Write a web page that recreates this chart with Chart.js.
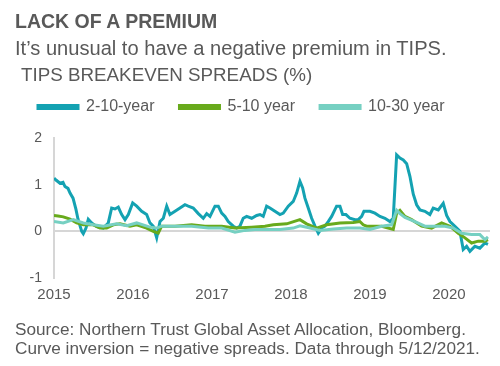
<!DOCTYPE html>
<html>
<head>
<meta charset="utf-8">
<script src="https://cdn.jsdelivr.net/npm/chart.js@4/dist/chart.umd.min.js"></script>
<style>
  html, body { margin: 0; padding: 0; background: #fff; }
  body { width: 500px; height: 366px; position: relative; overflow: hidden; font-family: "Liberation Sans", Arial, sans-serif; color: #595959; }
  .t { position: absolute; white-space: nowrap; line-height: 1; }
  #title { left: 15px; top: 12px; font-size: 19.5px; font-weight: bold; }
  #sub { left: 15px; top: 38px; font-size: 20.1px; }
  #ytitle { left: 21px; top: 66px; font-size: 18.8px; }
  #src { left: 15px; top: 319.5px; font-size: 17.2px; line-height: 19px; }
  #wrap { position: absolute; left: 0; top: 0; width: 500px; height: 366px; }
</style>
</head>
<body>
<div id="wrap"><canvas id="c" width="500" height="366"></canvas></div>
<div class="t" id="title">LACK OF A PREMIUM</div>
<div class="t" id="sub">It’s unusual to have a negative premium in TIPS.</div>
<div class="t" id="ytitle">TIPS BREAKEVEN SPREADS (%)</div>
<div class="t" id="src">Source: Northern Trust Global Asset Allocation, Bloomberg.<br>Curve inversion = negative spreads. Data through 5/12/2021.</div>
<script>
// Series names
const seriesNames = ["2-10-year", "5-10 year", "10-30 year"];
// X tick labels (years)
const yearTicks = [2015, 2016, 2017, 2018, 2019, 2020];

// 2-10-year: dates (decimal years) and spreads (%)
const dates2_10 = [2015.000,2015.025,2015.076,2015.114,2015.139,2015.177,2015.203,2015.241,2015.278,2015.304,2015.351,2015.371,2015.405,2015.434,2015.477,2015.541,2015.624,2015.687,2015.730,2015.772,2015.814,2015.857,2015.899,2015.941,2015.996,2016.047,2016.110,2016.173,2016.215,2016.257,2016.300,2016.342,2016.384,2016.427,2016.468,2016.532,2016.595,2016.658,2016.700,2016.763,2016.827,2016.890,2016.933,2016.975,2017.038,2017.080,2017.123,2017.165,2017.206,2017.270,2017.313,2017.354,2017.396,2017.439,2017.503,2017.566,2017.608,2017.649,2017.692,2017.734,2017.797,2017.861,2017.903,2017.966,2018.029,2018.072,2018.114,2018.148,2018.177,2018.219,2018.262,2018.304,2018.346,2018.389,2018.430,2018.472,2018.515,2018.578,2018.620,2018.654,2018.696,2018.747,2018.810,2018.852,2018.895,2018.924,2019.000,2019.063,2019.127,2019.190,2019.253,2019.295,2019.338,2019.380,2019.422,2019.465,2019.506,2019.548,2019.591,2019.633,2019.696,2019.759,2019.801,2019.865,2019.928,2019.971,2020.013,2020.076,2020.139,2020.181,2020.224,2020.266,2020.329,2020.392,2020.456,2020.494];
const spread2_10 = [1.14,1.10,1.03,1.05,0.96,0.92,0.82,0.71,0.47,0.26,0.00,-0.05,0.07,0.26,0.18,0.10,0.07,0.18,0.50,0.48,0.52,0.36,0.25,0.36,0.61,0.54,0.43,0.36,0.18,0.11,-0.14,0.21,0.28,0.54,0.36,0.43,0.50,0.57,0.54,0.50,0.38,0.28,0.38,0.32,0.54,0.54,0.39,0.32,0.21,0.11,0.07,0.11,0.28,0.32,0.28,0.34,0.36,0.32,0.54,0.50,0.43,0.36,0.39,0.54,0.64,0.82,1.07,0.93,0.71,0.50,0.28,0.11,-0.04,0.07,0.11,0.21,0.32,0.54,0.54,0.36,0.36,0.28,0.25,0.25,0.32,0.43,0.43,0.39,0.32,0.28,0.21,0.28,1.64,1.57,1.53,1.45,1.18,0.80,0.57,0.46,0.43,0.36,0.50,0.46,0.60,0.34,0.21,0.11,0.00,-0.39,-0.32,-0.43,-0.32,-0.36,-0.25,-0.28];

// 5-10 year
const dates5_10 = [2015.000,2015.051,2015.118,2015.203,2015.287,2015.371,2015.498,2015.582,2015.667,2015.751,2015.835,2015.962,2016.047,2016.173,2016.257,2016.320,2016.363,2016.532,2016.743,2016.911,2017.123,2017.291,2017.502,2017.671,2017.777,2017.946,2018.114,2018.198,2018.325,2018.452,2018.620,2018.789,2018.873,2018.915,2018.958,2019.148,2019.295,2019.338,2019.380,2019.443,2019.528,2019.654,2019.781,2019.908,2020.013,2020.118,2020.203,2020.287,2020.371,2020.456,2020.494];
const spread5_10 = [0.34,0.33,0.31,0.26,0.18,0.14,0.14,0.07,0.07,0.14,0.16,0.11,0.14,0.07,0.00,-0.04,0.11,0.11,0.14,0.11,0.11,0.07,0.09,0.11,0.14,0.16,0.25,0.16,0.07,0.14,0.18,0.19,0.21,0.14,0.11,0.11,0.04,0.39,0.45,0.32,0.25,0.11,0.07,0.18,0.11,-0.04,-0.14,-0.25,-0.21,-0.21,-0.18];

// 10-30 year
const dates10_30 = [2015.000,2015.118,2015.244,2015.371,2015.498,2015.624,2015.793,2015.920,2016.047,2016.215,2016.300,2016.363,2016.532,2016.743,2016.954,2017.123,2017.291,2017.418,2017.544,2017.671,2017.861,2018.029,2018.114,2018.241,2018.367,2018.536,2018.705,2018.873,2019.000,2019.148,2019.275,2019.338,2019.380,2019.443,2019.570,2019.696,2019.823,2019.949,2020.054,2020.160,2020.287,2020.392,2020.456,2020.494];
const spread10_30 = [0.21,0.18,0.25,0.18,0.14,0.11,0.16,0.12,0.18,0.09,0.07,0.11,0.11,0.11,0.07,0.07,-0.02,0.02,0.04,0.04,0.04,0.07,0.12,0.07,0.02,0.05,0.07,0.07,0.04,0.11,0.14,0.45,0.38,0.30,0.21,0.11,0.11,0.11,0.07,-0.04,-0.07,-0.07,-0.18,-0.12];

const colors = ["#14a2b2", "#68aa1c", "#76d0c2"];
const drawOrder = [3, 2, 1];

function pts(xs, ys) { return xs.map((x, i) => ({ x: x, y: ys[i] })); }

const ds = [
  [dates2_10, spread2_10],
  [dates5_10, spread5_10],
  [dates10_30, spread10_30]
].map((d, i) => ({
  label: seriesNames[i],
  data: pts(d[0], d[1]),
  borderColor: colors[i],
  backgroundColor: colors[i],
  borderWidth: 3,
  pointRadius: 0,
  tension: 0,
  order: drawOrder[i]
}));

const legendSpacer = {
  id: "legendSpacer",
  beforeInit(chart) {
    const origFit = chart.legend.fit;
    chart.legend.fit = function () {
      origFit.call(this);
      this.height += 13;
    };
  }
};

new Chart(document.getElementById("c"), {
  type: "line",
  data: { datasets: ds },
  plugins: [legendSpacer],
  options: {
    responsive: false,
    animation: false,
    layout: { padding: { left: 13, right: 10, top: 74, bottom: 54 } },
    plugins: {
      tooltip: { enabled: false },
      legend: {
        position: "top",
        align: "start",
        labels: {
          boxWidth: 40,
          boxHeight: 3,
          padding: 25,
          color: "#595959",
          sort: (a, b) => a.datasetIndex - b.datasetIndex,
          font: { family: "'Liberation Sans', Arial, sans-serif", size: 16 }
        }
      }
    },
    scales: {
      x: {
        type: "linear",
        min: 2015,
        max: 2020.52,
        afterBuildTicks: (s) => { s.ticks = yearTicks.map(v => ({ value: v })); },
        ticks: {
          color: "#595959",
          padding: 8,
          maxRotation: 0,
          font: { family: "'Liberation Sans', Arial, sans-serif", size: 15 },
          callback: (v) => String(v)
        },
        grid: { display: false, drawTicks: false },
        border: { display: false }
      },
      y: {
        min: -1,
        max: 2,
        afterFit: (s) => { s.width = 41; },
        ticks: {
          stepSize: 1,
          color: "#595959",
          padding: 12,
          font: { family: "'Liberation Sans', Arial, sans-serif", size: 14 },
          callback: (v) => String(v)
        },
        grid: {
          drawTicks: false,
          lineWidth: 2,
          color: (c) => (c.tick && c.tick.value === 0 ? "#d6d6d6" : "rgba(0,0,0,0)")
        },
        border: { display: true, color: "#d6d6d6", width: 2 }
      }
    }
  }
});
</script>
</body>
</html>
